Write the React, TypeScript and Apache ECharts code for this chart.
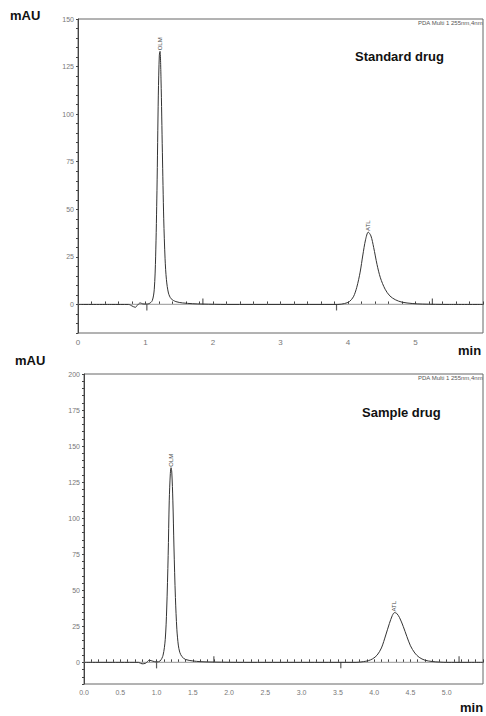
import React, { useEffect, useRef } from "react";
import * as echarts from "echarts";

// ---------- Standard drug (top) ----------
const stdTime = [0, 0.5, 0.75, 0.8, 0.85, 0.88, 0.92, 0.96, 1.0, 1.05, 1.1, 1.13, 1.15, 1.17, 1.19, 1.205, 1.215, 1.23, 1.25, 1.27, 1.29, 1.31, 1.34, 1.38, 1.45, 1.55, 1.7, 1.85, 2.2, 3.0, 3.85, 3.95, 4.02, 4.08, 4.13, 4.18, 4.22, 4.26, 4.3, 4.34, 4.38, 4.43, 4.48, 4.55, 4.62, 4.7, 4.8, 4.95, 5.1, 5.5, 6.0];
const stdSignal = [0, 0, 0, -0.8, -1.5, -0.4, 0.8, 0.3, 0.2, 0.4, 2, 8, 25, 60, 110, 131, 133, 118, 80, 45, 24, 13, 6, 3, 1.5, 0.8, 0.4, 0.2, 0, 0, 0, 0.5, 1.5, 4, 9, 17, 26, 34, 38, 36, 30, 21, 14, 8, 4.5, 2.5, 1.2, 0.5, 0.2, 0, 0];
const stdMarkTime = [1.02, 1.85, 3.83, 5.25];
const stdMarkDir = [-1, 1, -1, 1];
const stdPeakNames = ["OLM", "ATL"];
const stdPeakTime = [1.215, 4.3];

// ---------- Sample drug (bottom) ----------
const smpTime = [0, 0.5, 0.75, 0.8, 0.85, 0.9, 0.95, 1.0, 1.05, 1.09, 1.12, 1.14, 1.16, 1.175, 1.19, 1.2, 1.21, 1.225, 1.24, 1.26, 1.28, 1.3, 1.32, 1.35, 1.4, 1.5, 1.6, 1.8, 2.2, 3.0, 3.75, 3.85, 3.92, 3.98, 4.04, 4.1, 4.16, 4.21, 4.25, 4.28, 4.31, 4.35, 4.4, 4.45, 4.5, 4.56, 4.62, 4.7, 4.8, 4.9, 5.0, 5.5];
const smpSignal = [0, 0, 0, -1, -0.6, 1.5, 0.8, 0.3, 1, 5, 16, 37, 74, 112, 131, 135, 132, 112, 80, 45, 23, 12, 7, 4, 2, 1, 0.5, 0.2, 0, 0, 0, 0.5, 1.2, 2.5, 5, 10, 19, 27, 32.5, 34.5, 34, 31, 25, 18, 11.5, 6.5, 3.5, 1.5, 0.6, 0.2, 0, 0];
const smpMarkTime = [1.0, 1.79, 3.54, 5.17];
const smpMarkDir = [-1, 1, -1, 1];
const smpPeakNames = ["OLM", "ATL"];
const smpPeakTime = [1.2, 4.28];

const FONT = "Liberation Sans, Arial, sans-serif";

function buildPeakMarks(time: number[], sig: number[], names: string[], peaks: number[]) {
  return peaks.map((t, k) => {
    const i = time.indexOf(t);
    return {
      name: names[k],
      coord: [t, sig[i]],
      value: names[k],
    };
  });
}

function buildMarks(times: number[], dirs: number[]) {
  return times.map((t, i) => ({
    value: [t, 0],
    symbolOffset: [0, dirs[i] < 0 ? 3 : -3],
  }));
}

function peakMarkPoint(data: any[]) {
  return {
    symbol: "circle",
    symbolSize: 0.1,
    silent: true,
    label: {
      show: true,
      formatter: (p: any) => p.name,
      rotate: 90,
      position: "top",
      distance: 1,
      align: "left",
      verticalAlign: "middle",
      fontSize: 6,
      color: "#444",
      fontFamily: FONT,
      offset: [0, 0],
    },
    data,
  };
}

export default function App() {
  const ref = useRef<HTMLDivElement>(null);
  useEffect(() => {
    if (!ref.current) return;
    const chart = echarts.init(ref.current, null, { renderer: "svg" });
    const axisLabelBase = { fontSize: 7, color: "#777", fontFamily: FONT };
    const xLine = { show: true, lineStyle: { color: "#444", width: 1 } };
    const yLabelFmt = (v: number) => (Math.round(v) % 25 === 0 && v >= 0 ? String(Math.round(v)) : "");
    const option: any = {
      animation: false,
      backgroundColor: "#ffffff",
      grid: [
        { left: 78, top: 19, width: 406, height: 314, show: true, borderColor: "#666", borderWidth: 1 },
        { left: 84, top: 374, width: 400, height: 310, show: true, borderColor: "#666", borderWidth: 1 },
      ],
      xAxis: [
        {
          type: "value", gridIndex: 0, min: 0, max: 6, interval: 0.2,
          axisLine: xLine,
          axisTick: { show: true, inside: true, length: 3, lineStyle: { color: "#444" } },
          splitLine: { show: false },
          axisLabel: {
            ...axisLabelBase, fontSize: 8, margin: 5,
            formatter: (v: number) => {
              const r = Math.round(v);
              return Math.abs(v - r) < 1e-6 && r < 6 ? String(r) : "";
            },
          },
        },
        {
          type: "value", gridIndex: 1, min: 0, max: 5.5, interval: 0.1,
          axisLine: xLine,
          axisTick: { show: true, inside: true, length: 3, lineStyle: { color: "#444" } },
          splitLine: { show: false },
          axisLabel: {
            ...axisLabelBase, margin: 5,
            formatter: (v: number) => {
              const h = Math.round(v * 2);
              return Math.abs(v * 2 - h) < 1e-6 && v < 5.4 ? (h / 2).toFixed(1) : "";
            },
          },
        },
      ],
      yAxis: [
        {
          type: "value", gridIndex: 0, min: -15, max: 150, interval: 5,
          axisLine: xLine,
          axisTick: { show: true, length: 2, lineStyle: { color: "#444" } },
          splitLine: { show: false },
          axisLabel: { ...axisLabelBase, margin: 4, formatter: yLabelFmt },
        },
        {
          type: "value", gridIndex: 1, min: -15, max: 200, interval: 5,
          axisLine: xLine,
          axisTick: { show: true, length: 2, lineStyle: { color: "#444" } },
          splitLine: { show: false },
          axisLabel: { ...axisLabelBase, margin: 4, formatter: yLabelFmt },
        },
      ],
      series: [
        {
          type: "line", xAxisIndex: 0, yAxisIndex: 0, showSymbol: false, symbol: "none",
          data: [[0, 0], [6, 0]],
          lineStyle: { color: "#aaa", width: 1.2 }, silent: true, z: 1,
        },
        {
          type: "line", xAxisIndex: 0, yAxisIndex: 0, symbol: "none", smooth: 0.3,
          data: stdTime.map((t, i) => [t, stdSignal[i]]),
          lineStyle: { color: "#333", width: 1 }, z: 2,
          markPoint: peakMarkPoint(buildPeakMarks(stdTime, stdSignal, stdPeakNames, stdPeakTime)),
        },
        {
          type: "scatter", xAxisIndex: 0, yAxisIndex: 0, symbol: "rect", symbolSize: [1.2, 6],
          itemStyle: { color: "#333" }, data: buildMarks(stdMarkTime, stdMarkDir), z: 3,
        },
        {
          type: "line", xAxisIndex: 1, yAxisIndex: 1, showSymbol: false, symbol: "none",
          data: [[0, 0], [5.5, 0]],
          lineStyle: { color: "#aaa", width: 1.2 }, silent: true, z: 1,
        },
        {
          type: "line", xAxisIndex: 1, yAxisIndex: 1, symbol: "none", smooth: 0.3,
          data: smpTime.map((t, i) => [t, smpSignal[i]]),
          lineStyle: { color: "#333", width: 1 }, z: 2,
          markPoint: peakMarkPoint(buildPeakMarks(smpTime, smpSignal, smpPeakNames, smpPeakTime)),
        },
        {
          type: "scatter", xAxisIndex: 1, yAxisIndex: 1, symbol: "rect", symbolSize: [1.2, 6],
          itemStyle: { color: "#333" }, data: buildMarks(smpMarkTime, smpMarkDir), z: 3,
        },
      ],
      graphic: [
        { type: "text", left: 10, top: 9, style: { text: "mAU", font: `bold 13px ${FONT}`, fill: "#111" } },
        { type: "text", left: 15, top: 354, style: { text: "mAU", font: `bold 13px ${FONT}`, fill: "#111" } },
        { type: "text", left: 458, top: 344, style: { text: "min", font: `bold 13px ${FONT}`, fill: "#111" } },
        { type: "text", left: 460, top: 701, style: { text: "min", font: `bold 13px ${FONT}`, fill: "#111" } },
        { type: "text", right: 3, top: 20, style: { text: "PDA Multi 1 255nm,4nm", font: `6px ${FONT}`, fill: "#555" } },
        { type: "text", right: 3, top: 375, style: { text: "PDA Multi 1 255nm,4nm", font: `6px ${FONT}`, fill: "#555" } },
        { type: "text", left: 355, top: 50, style: { text: "Standard drug", font: `bold 13px ${FONT}`, fill: "#111" } },
        { type: "text", left: 362, top: 406, style: { text: "Sample drug", font: `bold 13px ${FONT}`, fill: "#111" } },
      ],
    };
    chart.setOption(option);
    return () => chart.dispose();
  }, []);
  return (
    <div
      ref={ref}
      style={{ position: "fixed", left: 0, top: 0, width: 486, height: 716, background: "#fff" }}
    />
  );
}
